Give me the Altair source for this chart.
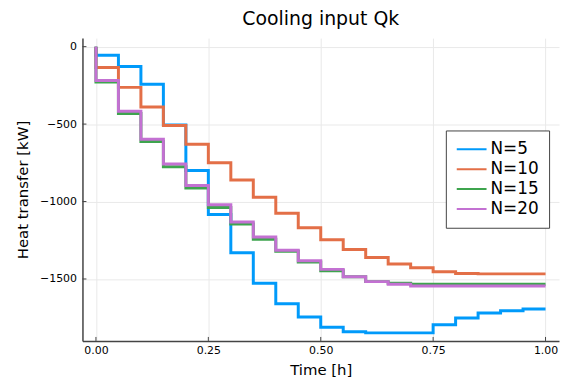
import altair as alt
import pandas as pd

# Time grid [h]
t = [0.0, 0.05, 0.10, 0.15, 0.20, 0.25, 0.30, 0.35, 0.40, 0.45, 0.50,
     0.55, 0.60, 0.65, 0.70, 0.75, 0.80, 0.85, 0.90, 0.95, 1.00]

series = ["N=5", "N=10", "N=15", "N=20"]
colors = ["#009AFA", "#E36F47", "#3EA44E", "#C371D2"]

# Cooling input Qk [kW] (step-before: value at t_i holds over (t_{i-1}, t_i])
q_n5 = [0, -55, -128, -243, -505, -800, -1083, -1330, -1528, -1660, -1745,
        -1812, -1840, -1848, -1848, -1848, -1795, -1752, -1720, -1705, -1694]
q_n10 = [0, -135, -263, -389, -509, -630, -750, -861, -972, -1075, -1169,
         -1246, -1310, -1361, -1404, -1427, -1453, -1464, -1467, -1467, -1467]
q_n15 = [0, -229, -432, -613, -776, -913, -1038, -1145, -1243, -1321, -1391,
         -1447, -1485, -1517, -1528, -1534, -1534, -1534, -1534, -1534, -1534]
q_n20 = [0, -218, -417, -598, -758, -897, -1021, -1132, -1229, -1314, -1383,
         -1438, -1485, -1517, -1534, -1545, -1545, -1545, -1545, -1545, -1545]

x_ticks = [0.0, 0.25, 0.5, 0.75, 1.0]
y_ticks = [0, -500, -1000, -1500]

rows = []
for name, vals in zip(series, [q_n5, q_n10, q_n15, q_n20]):
    for ti, v in zip(t, vals):
        rows.append({"t": ti, "Q": v, "series": name})
df = pd.DataFrame(rows)

W, H = 480, 305
FONT = "DejaVu Sans"

xscale = alt.Scale(domain=[-0.03, 1.03], nice=False, zero=False)
yscale = alt.Scale(domain=[-1900, 55], nice=False, zero=False)

x_enc = alt.X("t:Q", scale=xscale,
              axis=alt.Axis(values=x_ticks, format=".2f", title="Time [h]",
                            grid=True, tickSize=0, labelPadding=4,
                            titlePadding=7, labelFlush=False))
y_enc = alt.Y("Q:Q", scale=yscale,
              axis=alt.Axis(values=y_ticks, format="d",
                            title="Heat transfer [kW]",
                            grid=True, tickSize=0, labelPadding=6,
                            titlePadding=9))
color_enc = alt.Color("series:N", sort=series,
                      scale=alt.Scale(domain=series, range=colors),
                      legend=alt.Legend(title=None, orient="none",
                                        legendX=366, legendY=93,
                                        symbolType="stroke", symbolSize=900,
                                        symbolStrokeWidth=2, labelFontSize=17,
                                        labelFont=FONT, labelOffset=3,
                                        labelColor="#000000",
                                        clipHeight=18,
                                        padding=10, rowPadding=2,
                                        fillColor="#ffffff",
                                        strokeColor="#444444"))

layers = []
for name in series:
    layers.append(
        alt.Chart(df).transform_filter(alt.datum.series == name)
        .mark_line(interpolate="step-before", strokeWidth=3)
        .encode(x=x_enc, y=y_enc, color=color_enc, order="t:Q")
    )

xtick_df = pd.DataFrame({"v": x_ticks})
ytick_df = pd.DataFrame({"v": y_ticks})
xticks = alt.Chart(xtick_df).mark_rule(color="#444444", strokeWidth=1).encode(
    x=alt.X("v:Q", scale=xscale), y=alt.value(H), y2=alt.value(H - 4))
yticks = alt.Chart(ytick_df).mark_rule(color="#444444", strokeWidth=1).encode(
    y=alt.Y("v:Q", scale=yscale), x=alt.value(0), x2=alt.value(4))

chart = alt.layer(*layers, xticks, yticks).properties(
    width=W, height=H,
    title=alt.TitleParams("Cooling input Qk", fontSize=19, font=FONT,
                          fontWeight="normal", anchor="middle", offset=9,
                          color="#000000"),
    autosize=alt.AutoSizeParams(type="none"),
    padding={"left": 75, "top": 29, "right": 2, "bottom": 38},
).configure_view(strokeOpacity=0).configure_axis(
    labelFont=FONT, labelFontSize=11, labelColor="#000000",
    titleFont=FONT, titleFontSize=15, titleFontWeight="normal",
    titleColor="#000000", domainColor="#444444", domainWidth=1.5,
    gridColor="#e9e9e9", gridWidth=1,
)

chart.save("out.html", embed_options={"renderer": "svg", "actions": False})
